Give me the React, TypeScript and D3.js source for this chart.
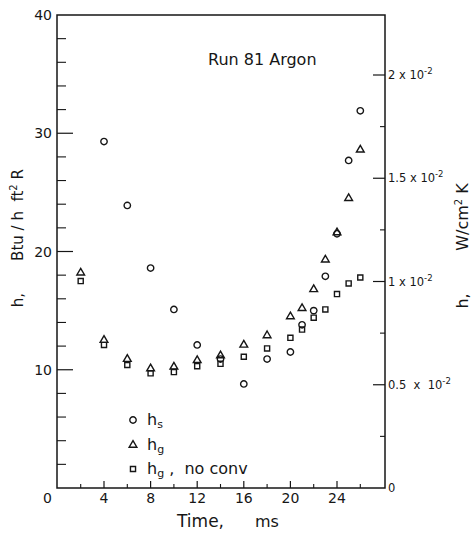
import * as d3 from 'd3';
import { useEffect, useRef } from 'react';

// time (ms) for each series
const hsTime = [4, 6, 8, 10, 12, 14, 16, 18, 20, 21, 22, 23, 24, 25, 26];
const hsValue = [29.3, 23.9, 18.6, 15.1, 12.1, 10.9, 8.8, 10.9, 11.5, 13.8, 15.0, 17.9, 21.5, 27.7, 31.9];

const hgTime = [2, 4, 6, 8, 10, 12, 14, 16, 18, 20, 21, 22, 23, 24, 25, 26];
const hgValue = [18.2, 12.5, 10.9, 10.1, 10.25, 10.8, 11.2, 12.1, 12.9, 14.5, 15.2, 16.8, 19.3, 21.6, 24.5, 28.6];

const ncTime = [2, 4, 6, 8, 10, 12, 14, 16, 18, 20, 21, 22, 23, 24, 25, 26];
const ncValue = [17.5, 12.1, 10.4, 9.7, 9.8, 10.3, 10.5, 11.1, 11.8, 12.7, 13.4, 14.4, 15.1, 16.4, 17.3, 17.8];

const xMajor = [4, 8, 12, 16, 20, 24];
const xMinor = [2, 6, 10, 14, 18, 22, 26];
const yMajor = [10, 20, 30];
const yLabels = [10, 20, 30, 40];
const yMinor = [2, 4, 6, 8, 12, 14, 16, 18, 22, 24, 26, 28, 32, 34, 36, 38];
const rMajor = [0.005, 0.01, 0.015, 0.02];
const rMinor = [0.0025, 0.0075, 0.0125, 0.0175];
const rLabels = [
  { v: 0, m: '0', e: '' },
  { v: 0.005, m: '0.5  x  10', e: '-2' },
  { v: 0.01, m: '1 x 10', e: '-2' },
  { v: 0.015, m: '1.5 x 10', e: '-2' },
  { v: 0.02, m: '2 x 10', e: '-2' },
];

const ink = '#161616';
const font = '"DejaVu Sans", sans-serif';

function App() {
  const ref = useRef<SVGSVGElement>(null);

  useEffect(() => {
    const svg = d3.select(ref.current);
    svg.selectAll('*').remove();

    const x = d3.scaleLinear().domain([0, 28.12]).range([57.4, 385]);
    const y = d3.scaleLinear().domain([0, 40]).range([488, 15]);
    const yr = d3.scaleLinear().domain([0, 0.02]).range([488, 75]);

    const left = 57, right = 385, top = 15, bottom = 488;

    // frame
    svg.append('rect')
      .attr('x', left).attr('y', top)
      .attr('width', right - left).attr('height', bottom - top)
      .attr('fill', 'none').attr('stroke', ink).attr('stroke-width', 1.5);

    // left ticks
    svg.selectAll('.ymaj').data(yMajor).enter().append('line')
      .attr('x1', left).attr('x2', left + 16)
      .attr('y1', d => y(d)).attr('y2', d => y(d))
      .attr('stroke', ink).attr('stroke-width', 1.2);
    svg.selectAll('.ymin').data(yMinor).enter().append('line')
      .attr('x1', left).attr('x2', left + 9)
      .attr('y1', d => y(d)).attr('y2', d => y(d))
      .attr('stroke', ink).attr('stroke-width', 1.1);
    svg.selectAll('.ylab').data(yLabels).enter().append('text')
      .attr('x', 52).attr('y', d => y(d)).attr('dy', '0.36em')
      .attr('text-anchor', 'end')
      .style('font-family', font).style('font-size', '14px').attr('fill', ink)
      .text(d => d);

    // bottom ticks
    svg.selectAll('.xmaj').data(xMajor).enter().append('line')
      .attr('x1', d => x(d)).attr('x2', d => x(d))
      .attr('y1', bottom).attr('y2', bottom - 7)
      .attr('stroke', ink).attr('stroke-width', 1.2);
    svg.selectAll('.xmin').data(xMinor).enter().append('line')
      .attr('x1', d => x(d)).attr('x2', d => x(d))
      .attr('y1', bottom).attr('y2', bottom - 4)
      .attr('stroke', ink).attr('stroke-width', 1.1);
    svg.selectAll('.xlab').data(xMajor).enter().append('text')
      .attr('x', d => x(d)).attr('y', 503)
      .attr('text-anchor', 'middle')
      .style('font-family', font).style('font-size', '14px').attr('fill', ink)
      .text(d => d);
    svg.append('text')
      .attr('x', x(0) - 10).attr('y', 503)
      .attr('text-anchor', 'middle')
      .style('font-family', font).style('font-size', '14px').attr('fill', ink)
      .text('0');

    // right ticks
    svg.selectAll('.rmaj').data(rMajor).enter().append('line')
      .attr('x1', right).attr('x2', right - 12)
      .attr('y1', d => yr(d)).attr('y2', d => yr(d))
      .attr('stroke', ink).attr('stroke-width', 1.2);
    svg.selectAll('.rmin').data(rMinor).enter().append('line')
      .attr('x1', right).attr('x2', right - 5)
      .attr('y1', d => yr(d)).attr('y2', d => yr(d))
      .attr('stroke', ink).attr('stroke-width', 1.1);
    const rl = svg.selectAll('.rlab').data(rLabels).enter().append('text')
      .attr('x', 388).attr('y', d => yr(d.v)).attr('dy', '0.36em')
      .style('font-family', font).style('font-size', '11.5px').attr('fill', ink)
      .attr('xml:space', 'preserve');
    rl.append('tspan').text(d => d.m);
    rl.append('tspan').attr('dy', -5).style('font-size', '8.5px').text(d => d.e);

    // axis titles
    const lt = svg.append('g').attr('transform', 'translate(23,0) rotate(-90)');
    lt.append('text').attr('x', -300).attr('text-anchor', 'middle')
      .style('font-family', font).style('font-size', '15px').attr('fill', ink)
      .text('h,');
    const lt2 = lt.append('text').attr('x', -215).attr('text-anchor', 'middle')
      .style('font-family', font).style('font-size', '15px').attr('fill', ink)
      .attr('xml:space', 'preserve');
    lt2.append('tspan').text('Btu / h  ft');
    lt2.append('tspan').attr('dy', -6).style('font-size', '10px').text('2');
    lt2.append('tspan').attr('dy', 6).text(' R');

    const rt = svg.append('g').attr('transform', 'translate(468,0) rotate(-90)');
    rt.append('text').attr('x', -301).attr('text-anchor', 'middle')
      .style('font-family', font).style('font-size', '16px').attr('fill', ink)
      .text('h,');
    const rt2 = rt.append('text').attr('x', -217).attr('text-anchor', 'middle')
      .style('font-family', font).style('font-size', '16px').attr('fill', ink)
      .attr('xml:space', 'preserve');
    rt2.append('tspan').text('W/cm');
    rt2.append('tspan').attr('dy', -6).style('font-size', '10px').text('2');
    rt2.append('tspan').attr('dy', 6).text(' K');

    svg.append('text').attr('x', 177).attr('y', 527)
      .style('font-family', font).style('font-size', '17px').attr('fill', ink)
      .text('Time,');
    svg.append('text').attr('x', 255).attr('y', 527)
      .style('font-family', font).style('font-size', '16px').attr('fill', ink)
      .text('ms');

    // title
    svg.append('text').attr('x', 208).attr('y', 65)
      .style('font-family', font).style('font-size', '16px').attr('fill', ink)
      .text('Run 81  Argon');

    // markers
    const circ = d3.symbol().type(d3.symbolCircle).size(32);
    const tri = d3.symbol().type(d3.symbolTriangle).size(26);
    const sq = d3.symbol().type(d3.symbolSquare).size(26);

    const series = [
      { t: hsTime, v: hsValue, sym: circ },
      { t: hgTime, v: hgValue, sym: tri },
      { t: ncTime, v: ncValue, sym: sq },
    ];
    series.forEach(s => {
      svg.append('g').selectAll('path').data(s.t).enter().append('path')
        .attr('transform', (d, i) => `translate(${x(d)},${y(s.v[i])})`)
        .attr('d', s.sym())
        .attr('fill', 'none').attr('stroke', ink).attr('stroke-width', 1.4);
    });

    // legend
    const legendRows = [
      { sym: circ, y: 420, sub: 's', rest: '' },
      { sym: tri, y: 445, sub: 'g', rest: '' },
      { sym: sq, y: 469, sub: 'g', rest: ' ,  no conv' },
    ];
    legendRows.forEach(r => {
      svg.append('path')
        .attr('transform', `translate(133,${r.y})`)
        .attr('d', r.sym())
        .attr('fill', 'none').attr('stroke', ink).attr('stroke-width', 1.4);
      const t = svg.append('text').attr('x', 147).attr('y', r.y + 5)
        .style('font-family', font).style('font-size', '16px').attr('fill', ink)
        .attr('xml:space', 'preserve');
      t.append('tspan').text('h');
      t.append('tspan').attr('dy', 3).style('font-size', '11px').text(r.sub);
      t.append('tspan').attr('dy', -3).text(r.rest);
    });
  }, []);

  return (
    <svg ref={ref} width={474} height={534}
      style={{ position: 'absolute', left: 0, top: 0, background: '#fff' }} />
  );
}

export default App;
